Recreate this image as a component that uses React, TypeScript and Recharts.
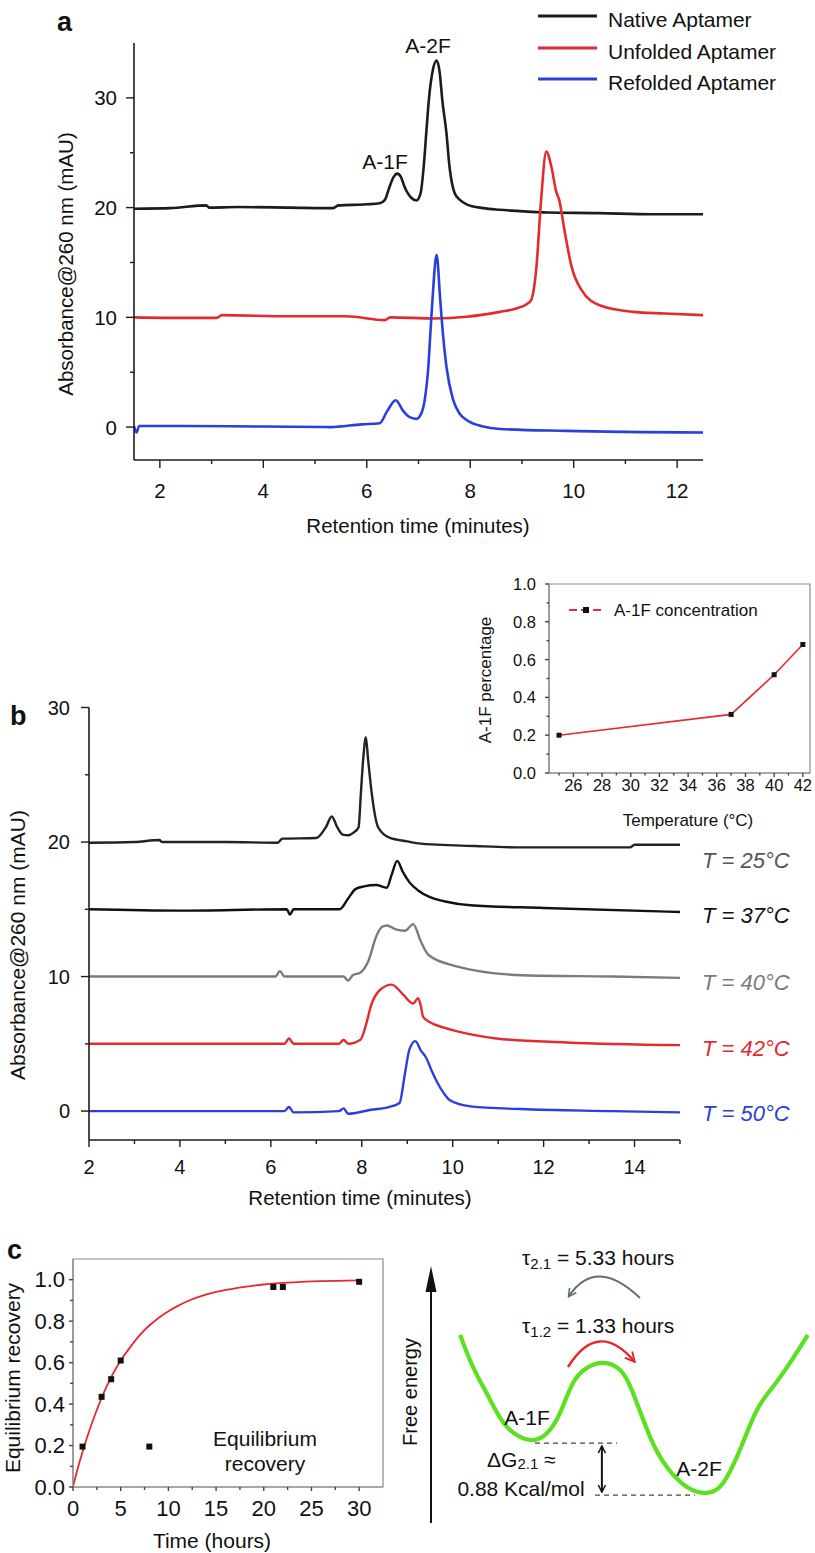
import React from 'react';
import {
  LineChart,
  Line,
  XAxis,
  YAxis,
  ComposedChart,
  Scatter,
  ReferenceLine,
  ReferenceArea,
} from 'recharts';

const FONT = '"Liberation Sans", Arial, Helvetica, sans-serif';
const INK = '#1c1c1c';
const RED = '#e42a2f';
const BLUE = '#2a3fdc';
const GREY = '#7b7b7b';
const GREEN = '#5be11f';
const FRAME = '#8a8a8a';

// ---- panel a: HPLC traces, retention time (min) vs absorbance (mAU) ----
const nativeTime = [1.5, 2.2, 2.9, 2.95, 3.5, 4.5, 5.35, 5.45, 6.0, 6.25, 6.35, 6.44, 6.52, 6.59, 6.66, 6.73, 6.86, 6.96, 7.04, 7.1, 7.15, 7.2, 7.28, 7.35, 7.41, 7.46, 7.54, 7.6, 7.7, 7.8, 7.93, 8.25, 8.57, 8.9, 9.5, 10.5, 11.5, 12.5];
const nativeAbs = [19.9, 19.95, 20.2, 20.0, 20.05, 20.0, 19.95, 20.2, 20.3, 20.4, 20.7, 21.9, 22.8, 23.1, 22.8, 21.9, 20.9, 20.65, 21.3, 23.7, 26.8, 29.8, 32.6, 33.4, 32.3, 29.8, 26.8, 23.7, 21.3, 20.7, 20.3, 19.95, 19.8, 19.7, 19.55, 19.5, 19.4, 19.4];
const unfoldedTime = [1.5, 2.5, 3.1, 3.2, 4.5, 5.6, 6.35, 6.45, 7.3, 7.93, 8.57, 8.89, 9.09, 9.18, 9.28, 9.37, 9.47, 9.57, 9.66, 9.72, 9.83, 9.96, 10.15, 10.5, 11.14, 11.76, 12.5];
const unfoldedAbs = [10.0, 9.95, 9.95, 10.2, 10.1, 10.1, 9.75, 10.0, 9.9, 10.05, 10.5, 10.8, 11.2, 11.6, 14.6, 20.7, 25.1, 23.7, 21.5, 20.7, 17.7, 14.6, 12.5, 11.1, 10.5, 10.35, 10.2];
const refoldedTime = [1.5, 1.55, 1.6, 2.5, 4.0, 5.3, 5.9, 6.25, 6.4, 6.56, 6.7, 6.83, 6.96, 7.05, 7.12, 7.19, 7.23, 7.27, 7.35, 7.42, 7.47, 7.54, 7.67, 7.8, 7.93, 8.25, 8.57, 9.86, 12.5];
const refoldedAbs = [0.1, -0.5, 0.1, 0.1, 0.05, 0.0, 0.25, 0.35, 1.5, 2.45, 1.5, 0.9, 0.75, 1.2, 2.47, 5.5, 8.6, 11.6, 15.7, 11.6, 8.6, 5.5, 2.47, 1.2, 0.65, 0.05, -0.17, -0.35, -0.5];

// ---- panel b: traces at different temperatures ----
const t25Time = [2, 3.0, 3.55, 3.6, 5.0, 6.15, 6.25, 7.0, 7.21, 7.34, 7.46, 7.58, 7.7, 7.82, 7.93, 7.98, 8.03, 8.09, 8.14, 8.22, 8.36, 8.62, 9.0, 9.24, 10.5, 11.54, 13.9, 14.0, 15];
const t25Abs = [19.95, 20.0, 20.15, 20.0, 20.0, 19.95, 20.25, 20.3, 21.1, 21.9, 21.1, 20.55, 20.5, 20.7, 21.1, 23.6, 26.1, 27.8, 26.1, 23.6, 21.1, 20.3, 20.05, 19.9, 19.7, 19.6, 19.6, 19.8, 19.8];
const t37Time = [2, 4, 6.35, 6.42, 6.5, 7.51, 7.7, 7.86, 8.05, 8.32, 8.55, 8.66, 8.78, 8.9, 9.05, 9.24, 9.5, 9.81, 10.39, 12, 15];
const t37Abs = [15.0, 14.9, 15.0, 14.6, 15.0, 15.0, 15.8, 16.5, 16.7, 16.8, 16.6, 17.6, 18.6, 17.8, 17.0, 16.4, 15.9, 15.6, 15.3, 15.1, 14.8];
const t40Time = [2, 6.1, 6.2, 6.3, 7.6, 7.7, 7.8, 7.97, 8.15, 8.32, 8.45, 8.55, 8.75, 8.95, 9.13, 9.3, 9.47, 10.04, 11.54, 13.5, 15];
const t40Abs = [10.0, 10.0, 10.4, 10.0, 10.0, 9.7, 10.1, 10.3, 11.2, 13.0, 13.7, 13.8, 13.5, 13.4, 13.9, 12.6, 11.6, 10.8, 10.1, 10.0, 9.9];
const t42Time = [2, 6.3, 6.4, 6.5, 7.5, 7.6, 7.7, 7.97, 8.1, 8.2, 8.4, 8.66, 8.9, 9.13, 9.24, 9.3, 9.35, 9.5, 9.81, 10.4, 10.96, 12.5, 15];
const t42Abs = [5.0, 5.0, 5.4, 5.0, 5.0, 5.3, 5.0, 5.3, 6.5, 7.8, 9.0, 9.4, 8.7, 8.0, 8.4, 7.8, 7.0, 6.6, 6.2, 5.7, 5.4, 5.1, 4.9];
const t50Time = [2, 6.3, 6.4, 6.5, 7.5, 7.6, 7.7, 8.2, 8.6, 8.83, 8.95, 9.05, 9.18, 9.3, 9.41, 9.55, 9.65, 9.81, 9.94, 10.39, 11.5, 13.5, 15];
const t50Abs = [0.0, 0.0, 0.3, -0.1, 0.0, 0.2, -0.2, 0.1, 0.3, 0.6, 2.8, 4.6, 5.2, 4.5, 4.0, 2.9, 2.2, 1.3, 0.8, 0.35, 0.15, 0.0, -0.1];
const tempLabels = ['T = 25°C', 'T = 37°C', 'T = 40°C', 'T = 42°C', 'T = 50°C'];

// ---- inset: A-1F fraction vs temperature ----
const insetTemp = [25, 37, 40, 42];
const insetFraction = [0.2, 0.31, 0.52, 0.68];

// ---- panel c: equilibrium recovery ----
const recoveryTime = [1, 3, 4, 5, 8, 21, 22, 30];
const recoveryValue = [0.195, 0.435, 0.52, 0.61, 0.195, 0.965, 0.965, 0.99];
const fitTime = [0, 0.5, 1, 2, 3, 4, 5, 6, 7, 8, 9, 10, 11, 12, 14, 16, 18, 20, 23, 26, 30];
const fitValue = [0, 0.09, 0.17, 0.31, 0.43, 0.53, 0.61, 0.675, 0.733, 0.779, 0.817, 0.848, 0.874, 0.896, 0.929, 0.951, 0.966, 0.977, 0.987, 0.993, 0.997];

// ---- energy landscape (arbitrary units) ----
const landscapeCoord = [0.53, 0.87, 1.32, 1.76, 2.37, 2.82, 3.16, 3.5, 3.87, 4.29, 4.74, 5.08, 5.53, 5.97, 6.5, 7.03, 7.45, 7.89, 8.34, 8.76, 9.21, 9.68];
const landscapeEnergy = [7.12, 5.88, 4.62, 3.58, 3.08, 3.35, 4.12, 5.27, 5.85, 6.04, 5.77, 4.88, 3.19, 2.04, 1.27, 1.04, 1.42, 2.69, 4.23, 5.12, 6.04, 7.12];

// ---- ticks ----
const aTicksX = [2, 3, 4, 5, 6, 7, 8, 9, 10, 11, 12];
const aMajorX = [2, 4, 6, 8, 10, 12];
const aTicksY = [0, 5, 10, 15, 20, 25, 30];
const aMajorY = [0, 10, 20, 30];
const bTicksX = [2, 3, 4, 5, 6, 7, 8, 9, 10, 11, 12, 13, 14, 15];
const bMajorX = [2, 4, 6, 8, 10, 12, 14];
const insetTicksX = [25, 26, 27, 28, 29, 30, 31, 32, 33, 34, 35, 36, 37, 38, 39, 40, 41, 42];
const insetMajorX = [26, 28, 30, 32, 34, 36, 38, 40, 42];
const insetTicksY = [0, 0.1, 0.2, 0.3, 0.4, 0.5, 0.6, 0.7, 0.8, 0.9, 1.0];
const insetMajorY = [0, 0.2, 0.4, 0.6, 0.8, 1.0];
const cTicksX = [0, 2.5, 5, 7.5, 10, 12.5, 15, 17.5, 20, 22.5, 25, 27.5, 30];
const cMajorX = [0, 5, 10, 15, 20, 25, 30];
const cTicksY = [0, 0.1, 0.2, 0.3, 0.4, 0.5, 0.6, 0.7, 0.8, 0.9, 1.0];
const cMajorY = [0, 0.2, 0.4, 0.6, 0.8, 1.0];

const pts = (xs: number[], ys: number[]) => xs.map((x, i) => ({ x, y: ys[i] }));

type TickCfg = {
  majors: number[];
  size: number;
  len: number;
  minorLen: number;
  gap: number;
  color: string;
  digits?: number;
};

const near = (list: number[], v: number) => list.some((m) => Math.abs(m - v) < 1e-6);

const bottomTick = (c: TickCfg) => (p: any) => {
  const v = p.payload.value;
  const major = near(c.majors, v);
  return (
    <g>
      <line x1={p.x} x2={p.x} y1={p.y} y2={p.y + (major ? c.len : c.minorLen)} stroke={c.color} strokeWidth={1.4} />
      {major && (
        <text x={p.x} y={p.y + c.gap} textAnchor="middle" dominantBaseline="central" fontSize={c.size} fontFamily={FONT} fill="#111">
          {c.digits ? v.toFixed(c.digits) : v}
        </text>
      )}
    </g>
  );
};

const leftTick = (c: TickCfg) => (p: any) => {
  const v = p.payload.value;
  const major = near(c.majors, v);
  return (
    <g>
      <line x1={p.x} x2={p.x - (major ? c.len : c.minorLen)} y1={p.y} y2={p.y} stroke={c.color} strokeWidth={1.4} />
      {major && (
        <text x={p.x - c.gap} y={p.y} textAnchor="end" dominantBaseline="central" fontSize={c.size} fontFamily={FONT} fill="#111">
          {c.digits ? v.toFixed(c.digits) : v}
        </text>
      )}
    </g>
  );
};

const squareDot = (size: number) => (p: any) => (
  <rect key={`sq-${p.cx}-${p.cy}`} x={p.cx - size / 2} y={p.cy - size / 2} width={size} height={size} fill="#111" />
);

const Txt = (props: any) => (
  <text fontFamily={FONT} fill="#111" dominantBaseline="central" {...props} />
);

const PanelA = () => (
  <div style={{ position: 'absolute', left: 0, top: 0 }}>
    <LineChart width={815} height={540} margin={{ top: 43, right: 112, bottom: 0, left: 0 }}>
      <XAxis
        type="number"
        dataKey="x"
        domain={[1.5, 12.5]}
        allowDataOverflow
        ticks={aTicksX}
        interval={0}
        height={80}
        tickSize={0}
        tickMargin={0}
        tickLine={false}
        axisLine={{ stroke: INK, strokeWidth: 1.6 }}
        tick={bottomTick({ majors: aMajorX, size: 20.5, len: 8, minorLen: 4, gap: 30, color: INK })}
      />
      <YAxis
        type="number"
        dataKey="y"
        domain={[-3, 35]}
        allowDataOverflow
        ticks={aTicksY}
        interval={0}
        width={134}
        tickSize={0}
        tickMargin={0}
        tickLine={false}
        axisLine={{ stroke: INK, strokeWidth: 1.6 }}
        tick={leftTick({ majors: aMajorY, size: 20.5, len: 8, minorLen: 4, gap: 17, color: INK })}
      />
      <Line data={pts(nativeTime, nativeAbs)} dataKey="y" type="monotone" stroke={INK} strokeWidth={2.6} dot={false} isAnimationActive={false} />
      <Line data={pts(unfoldedTime, unfoldedAbs)} dataKey="y" type="monotone" stroke={RED} strokeWidth={2.6} dot={false} isAnimationActive={false} />
      <Line data={pts(refoldedTime, refoldedAbs)} dataKey="y" type="monotone" stroke={BLUE} strokeWidth={2.6} dot={false} isAnimationActive={false} />
    </LineChart>
  </div>
);

const PanelB = () => (
  <div style={{ position: 'absolute', left: 0, top: 690 }}>
    <LineChart width={815} height={530} margin={{ top: 17.5, right: 135, bottom: 0, left: 0 }}>
      <XAxis
        type="number"
        dataKey="x"
        domain={[2, 15]}
        allowDataOverflow
        ticks={bTicksX}
        interval={0}
        height={80}
        tickSize={0}
        tickMargin={0}
        tickLine={false}
        axisLine={{ stroke: INK, strokeWidth: 1.6 }}
        tick={bottomTick({ majors: bMajorX, size: 20, len: 7, minorLen: 4, gap: 27, color: INK })}
      />
      <YAxis
        type="number"
        dataKey="y"
        domain={[-2.15, 30]}
        allowDataOverflow
        ticks={aTicksY}
        interval={0}
        width={89}
        tickSize={0}
        tickMargin={0}
        tickLine={false}
        axisLine={{ stroke: INK, strokeWidth: 1.6 }}
        tick={leftTick({ majors: aMajorY, size: 20, len: 8, minorLen: 4, gap: 19, color: INK })}
      />
      <Line data={pts(t25Time, t25Abs)} dataKey="y" type="monotone" stroke="#222" strokeWidth={2.4} dot={false} isAnimationActive={false} />
      <Line data={pts(t37Time, t37Abs)} dataKey="y" type="monotone" stroke="#111" strokeWidth={2.4} dot={false} isAnimationActive={false} />
      <Line data={pts(t40Time, t40Abs)} dataKey="y" type="monotone" stroke={GREY} strokeWidth={2.4} dot={false} isAnimationActive={false} />
      <Line data={pts(t42Time, t42Abs)} dataKey="y" type="monotone" stroke={RED} strokeWidth={2.4} dot={false} isAnimationActive={false} />
      <Line data={pts(t50Time, t50Abs)} dataKey="y" type="monotone" stroke={BLUE} strokeWidth={2.4} dot={false} isAnimationActive={false} />
    </LineChart>
  </div>
);

const Inset = () => (
  <div style={{ position: 'absolute', left: 0, top: 560 }}>
    <LineChart width={815} height={300} margin={{ top: 24, right: 5, bottom: 0, left: 0 }}>
      <XAxis
        type="number"
        dataKey="x"
        domain={[24.3, 42.5]}
        allowDataOverflow
        ticks={insetTicksX}
        interval={0}
        height={87}
        tickSize={0}
        tickMargin={0}
        tickLine={false}
        axisLine={{ stroke: FRAME, strokeWidth: 1.2 }}
        tick={bottomTick({ majors: insetMajorX, size: 16.5, len: 4, minorLen: 2.5, gap: 12, color: '#444' })}
      />
      <YAxis
        type="number"
        dataKey="y"
        domain={[0, 1]}
        allowDataOverflow
        ticks={insetTicksY}
        interval={0}
        width={549}
        tickSize={0}
        tickMargin={0}
        tickLine={false}
        axisLine={{ stroke: FRAME, strokeWidth: 1.2 }}
        tick={leftTick({ majors: insetMajorY, size: 16.5, len: 4, minorLen: 2.5, gap: 13, color: '#444', digits: 1 })}
      />
      <ReferenceArea x1={24.3} x2={42.5} y1={0} y2={1} fill="none" fillOpacity={0} stroke={FRAME} strokeWidth={1.2} ifOverflow="visible" />
      <Line
        data={pts(insetTemp, insetFraction)}
        dataKey="y"
        type="linear"
        stroke={RED}
        strokeWidth={1.6}
        dot={squareDot(5)}
        isAnimationActive={false}
      />
    </LineChart>
  </div>
);

const PanelC = () => (
  <div style={{ position: 'absolute', left: 0, top: 1240 }}>
    <ComposedChart width={815} height={287} margin={{ top: 19, right: 432, bottom: 0, left: 0 }}>
      <XAxis
        type="number"
        dataKey="x"
        domain={[0, 32.5]}
        allowDataOverflow
        ticks={cTicksX}
        interval={0}
        height={40}
        tickSize={0}
        tickMargin={0}
        tickLine={false}
        axisLine={{ stroke: FRAME, strokeWidth: 1.2 }}
        tick={bottomTick({ majors: cMajorX, size: 22, len: 4, minorLen: 3, gap: 21, color: '#444' })}
      />
      <YAxis
        type="number"
        dataKey="y"
        domain={[0, 1.1]}
        allowDataOverflow
        ticks={cTicksY}
        interval={0}
        width={73}
        tickSize={0}
        tickMargin={0}
        tickLine={false}
        axisLine={{ stroke: FRAME, strokeWidth: 1.2 }}
        tick={leftTick({ majors: cMajorY, size: 22, len: 4, minorLen: 3, gap: 8, color: '#444', digits: 1 })}
      />
      <ReferenceArea x1={0} x2={32.5} y1={0} y2={1.1} fill="none" fillOpacity={0} stroke={FRAME} strokeWidth={1.2} ifOverflow="visible" />
      <Line data={pts(fitTime, fitValue)} dataKey="y" type="monotone" stroke={RED} strokeWidth={1.8} dot={false} isAnimationActive={false} />
      <Scatter data={pts(recoveryTime, recoveryValue)} dataKey="y" fill="#111" shape={squareDot(6)} isAnimationActive={false} />
    </ComposedChart>
  </div>
);

const Landscape = () => (
  <div style={{ position: 'absolute', left: 440, top: 1260 }}>
    <LineChart width={380} height={260} margin={{ top: 0, right: 0, bottom: 0, left: 0 }}>
      <XAxis type="number" dataKey="x" domain={[0, 10]} hide allowDataOverflow />
      <YAxis type="number" dataKey="y" domain={[0, 10]} hide allowDataOverflow />
      <ReferenceLine segment={[{ x: 2.5, y: 2.96 }, { x: 4.66, y: 2.96 }]} stroke="#444" strokeWidth={1.3} strokeDasharray="5 4" ifOverflow="visible" />
      <ReferenceLine segment={[{ x: 4.08, y: 0.96 }, { x: 6.71, y: 0.96 }]} stroke="#444" strokeWidth={1.3} strokeDasharray="5 4" ifOverflow="visible" />
      <ReferenceLine
        segment={[{ x: 4.26, y: 2.85 }, { x: 4.26, y: 1.07 }]}
        stroke="#111"
        strokeWidth={2}
        markerStart="url(#headBlackStart)"
        markerEnd="url(#headBlack)"
        ifOverflow="visible"
      />
      <Line data={pts(landscapeCoord, landscapeEnergy)} dataKey="y" type="natural" stroke={GREEN} strokeWidth={4.2} dot={false} isAnimationActive={false} />
    </LineChart>
  </div>
);

const Overlay = () => (
  <svg width={815} height={1553} style={{ position: 'absolute', left: 0, top: 0, pointerEvents: 'none' }}>
    <defs>
      <marker id="headBlack" viewBox="0 0 10 10" refX="9" refY="5" markerWidth="4.5" markerHeight="4.5" orient="auto">
        <path d="M1,1 L9,5 L1,9" fill="none" stroke="#111" strokeWidth="1.6" />
      </marker>
      <marker id="headBlackStart" viewBox="0 0 10 10" refX="1" refY="5" markerWidth="4.5" markerHeight="4.5" orient="auto">
        <path d="M9,1 L1,5 L9,9" fill="none" stroke="#111" strokeWidth="1.6" />
      </marker>
      <marker id="headGrey" viewBox="0 0 10 10" refX="8" refY="5" markerWidth="5" markerHeight="5" orient="auto">
        <path d="M1,1 L9,5 L1,9" fill="none" stroke="#5f7070" strokeWidth="1.6" />
      </marker>
      <marker id="headRed" viewBox="0 0 10 10" refX="8" refY="5" markerWidth="5" markerHeight="5" orient="auto">
        <path d="M1,1 L9,5 L1,9" fill="none" stroke={RED} strokeWidth="1.6" />
      </marker>
    </defs>

    {/* panel a */}
    <Txt x={57} y={22} fontSize={27} fontWeight="bold">a</Txt>
    <Txt x={65} y={264} fontSize={20.5} textAnchor="middle" transform="rotate(-90 65 264)">Absorbance@260 nm (mAU)</Txt>
    <Txt x={418} y={525} fontSize={20.5} textAnchor="middle">Retention time (minutes)</Txt>
    <Txt x={385} y={161} fontSize={21} textAnchor="middle">A-1F</Txt>
    <Txt x={428} y={45} fontSize={21} textAnchor="middle">A-2F</Txt>
    {[
      { label: 'Native Aptamer', color: INK, y: 16 },
      { label: 'Unfolded Aptamer', color: RED, y: 48 },
      { label: 'Refolded Aptamer', color: BLUE, y: 79 },
    ].map((e) => (
      <g key={e.label}>
        <line x1={538} x2={597} y1={e.y} y2={e.y} stroke={e.color} strokeWidth={3} />
        <Txt x={608} y={e.y + 3} fontSize={21}>{e.label}</Txt>
      </g>
    ))}

    {/* panel b */}
    <Txt x={10} y={716} fontSize={27} fontWeight="bold">b</Txt>
    <Txt x={17} y={945} fontSize={21} textAnchor="middle" transform="rotate(-90 17 945)">Absorbance@260 nm (mAU)</Txt>
    <Txt x={360} y={1197} fontSize={20.5} textAnchor="middle">Retention time (minutes)</Txt>
    {tempLabels.map((lab, i) => (
      <Txt key={lab} x={702} y={[860, 915, 982, 1048, 1113][i]} fontSize={22} fontStyle="italic" fill={['#555', '#111', GREY, RED, BLUE][i]}>
        {lab}
      </Txt>
    ))}

    {/* inset */}
    <Txt x={485} y={680} fontSize={17} textAnchor="middle" transform="rotate(-90 485 680)">A-1F percentage</Txt>
    <Txt x={688} y={820} fontSize={17} textAnchor="middle">Temperature (°C)</Txt>
    <line x1={569} x2={604} y1={610} y2={610} stroke={RED} strokeWidth={1.8} strokeDasharray="8 4" />
    <rect x={583} y={607} width={6} height={6} fill="#111" />
    <Txt x={614} y={610} fontSize={17}>A-1F concentration</Txt>

    {/* panel c */}
    <Txt x={7} y={1250} fontSize={27} fontWeight="bold">c</Txt>
    <Txt x={12} y={1378} fontSize={21} textAnchor="middle" transform="rotate(-90 12 1378)">Equilibrium recovery</Txt>
    <Txt x={212} y={1540} fontSize={21} textAnchor="middle">Time (hours)</Txt>
    <Txt x={265} y={1438} fontSize={21} textAnchor="middle">Equilibrium</Txt>
    <Txt x={265} y={1463} fontSize={21} textAnchor="middle">recovery</Txt>

    {/* energy landscape */}
    <Txt x={410} y={1392} fontSize={20} textAnchor="middle" transform="rotate(-90 410 1392)">Free energy</Txt>
    <line x1={431} x2={431} y1={1523} y2={1288} stroke="#111" strokeWidth={2} />
    <polygon points="431,1266 425.5,1292 436.5,1292" fill="#111" />
    <text x={522} y={1257} fontFamily={FONT} fontSize={21} fill="#111" dominantBaseline="central">
      τ<tspan fontSize={15} dy={6}>2.1</tspan><tspan dy={-6}> = 5.33 hours</tspan>
    </text>
    <text x={522} y={1325} fontFamily={FONT} fontSize={21} fill="#111" dominantBaseline="central">
      τ<tspan fontSize={15} dy={6}>1.2</tspan><tspan dy={-6}> = 1.33 hours</tspan>
    </text>
    <path d="M 640 1298 Q 596 1256 569 1296" fill="none" stroke="#5f7070" strokeWidth={2} markerEnd="url(#headGrey)" />
    <path d="M 568 1367 Q 598 1319 634 1361" fill="none" stroke={RED} strokeWidth={2.4} markerEnd="url(#headRed)" />
    <Txt x={527} y={1417} fontSize={21} textAnchor="middle">A-1F</Txt>
    <Txt x={699} y={1468} fontSize={21} textAnchor="middle">A-2F</Txt>
    <text x={487} y={1459} fontFamily={FONT} fontSize={21} fill="#111" dominantBaseline="central">
      ΔG<tspan fontSize={15} dy={4}>2.1</tspan><tspan dy={-4}> ≈</tspan>
    </text>
    <Txt x={521} y={1488} fontSize={21} textAnchor="middle">0.88 Kcal/mol</Txt>
  </svg>
);

export default function App() {
  return (
    <div style={{ position: 'absolute', left: 0, top: 0, width: 815, height: 1553, overflow: 'hidden', background: '#fff', fontFamily: FONT }}>
      <PanelA />
      <Inset />
      <PanelB />
      <PanelC />
      <Landscape />
      <Overlay />
    </div>
  );
}
